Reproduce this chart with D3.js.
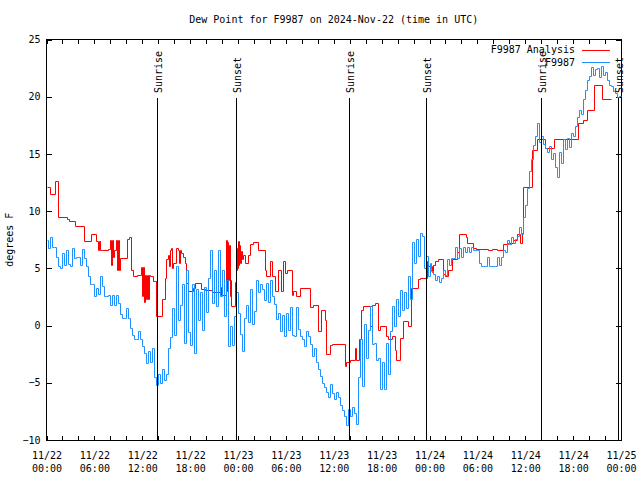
<!DOCTYPE html>
<html><head><meta charset="utf-8">
<script src="https://cdn.jsdelivr.net/npm/d3@7"></script>
<style>
body{margin:0;background:#fff}
svg{display:block}
text{font-family:"DejaVu Sans Mono",monospace;font-size:10px;fill:#000}
</style></head>
<body><svg id="c" width="640" height="480"></svg>
<script>
// ---------- DATA ----------
const titleText = "Dew Point for F9987 on 2024-Nov-22 (time in UTC)";
const yLabel = "degrees F";
const seriesNames = ["F9987 Analysis", "F9987"];
const startUTC = Date.UTC(2024, 10, 22, 0, 0);
const yTicks = [-10, -5, 0, 5, 10, 15, 20, 25];
const xTickHours = [0, 6, 12, 18, 24, 30, 36, 42, 48, 54, 60, 66, 72];
const xTickLabels = ["11/22\n00:00","11/22\n06:00","11/22\n12:00","11/22\n18:00",
  "11/23\n00:00","11/23\n06:00","11/23\n12:00","11/23\n18:00",
  "11/24\n00:00","11/24\n06:00","11/24\n12:00","11/24\n18:00","11/25\n00:00"];
const eventNames = ["Sunrise","Sunset","Sunrise","Sunset","Sunrise","Sunset"];
const eventHours = [13.89, 23.69, 37.91, 47.62, 61.97, 71.66];

// analysis (red), hours since 11/22 00:00 UTC and value (deg F), stepwise
const analysisHours = [0,0.5,1.09,1.5,2.55,2.76,3.6,4.64,5.52,6.23,6.43,6.55,6.65,6.94,7.69,7.99,8.09,8.19,8.32,8.47,8.74,8.84,8.94,9.06,9.22,10.12,10.37,10.62,10.83,11.29,11.88,12.0,12.13,12.23,12.36,12.48,12.61,12.73,12.83,12.92,13.33,13.71,14.51,14.8,15.01,15.22,15.37,15.49,15.64,15.74,15.84,16.27,16.43,16.56,16.68,16.9,17.1,17.31,17.52,17.72,18.35,18.56,19.41,19.82,20.7,21.7,21.91,22.54,22.62,22.7,22.79,22.87,22.96,23.04,23.17,23.58,23.75,23.83,23.92,24.0,24.09,24.17,24.27,24.37,24.46,24.58,24.83,25.25,25.46,25.84,26.5,27.35,27.56,27.97,28.31,28.6,29.01,29.44,29.64,29.94,30.14,30.77,30.9,31.32,31.74,32.99,33.4,34.03,34.46,34.87,35.08,35.5,35.79,37.38,37.59,38.01,38.63,38.85,39.17,39.47,39.68,40.52,40.81,41.14,41.56,41.77,42.61,42.81,43.24,43.66,43.86,44.28,44.7,45.32,45.62,46.58,46.79,47.63,47.83,48.26,48.46,48.67,49.08,49.71,49.92,50.34,50.76,51.39,51.72,52.52,52.72,53.47,53.77,55.28,55.78,56.41,57.24,57.87,58.49,59.0,59.34,59.55,59.75,60.8,61.43,62.47,63.64,66.65,67.2,67.7,68.65,69.66,70.75];
const analysisValues = [12.1,11.5,12.6,9.5,9.3,9.1,8.7,7.4,8.0,7.4,6.6,7.4,6.6,6.6,6.7,7.5,5.3,7.5,6.0,6.6,7.5,4.9,7.5,4.9,5.9,7.6,7.7,4.9,4.3,4.4,5.1,2.6,5.1,2.1,4.4,2.3,4.4,2.3,4.4,4.3,3.9,0.8,2.3,4.2,5.8,6.2,5.2,6.6,6.8,5.0,5.5,6.8,6.6,5.5,6.6,6.3,6.0,5.5,3.7,3.0,3.3,3.7,3.2,3.1,2.9,3.4,2.7,7.5,3.0,7.3,4.0,7.0,2.6,4.0,1.7,3.8,4.9,6.8,5.0,7.4,5.3,7.0,5.5,6.5,5.8,6.2,5.5,6.2,7.1,7.3,6.6,4.9,4.3,5.6,4.3,3.0,4.9,3.0,5.6,4.6,4.9,2.7,3.0,2.6,3.3,1.6,1.8,-0.5,1.4,0.5,-2.5,-1.7,-1.6,-3.5,-3.2,-3.0,-2.0,-3.0,-1.2,1.4,1.7,0.0,1.8,2.0,-0.4,0.0,-0.9,-1.2,-0.9,-2.1,-3.0,-1.1,0.4,0.0,3.3,4.1,4.2,5.6,5.2,4.7,5.3,5.6,5.8,4.5,4.3,4.9,5.8,6.4,8.0,7.7,7.2,6.8,6.7,6.6,6.7,6.6,7.1,7.2,7.5,8.0,7.2,8.1,12.1,15.3,16.3,15.5,16.3,17.7,18.0,18.8,21.0,19.8,19.8];

// station observations (blue), one value every 15 minutes from 11/22 00:00 UTC
const obsStepMinutes = 15;
const obsValues = [
 7.5,6.8,7.7,6.9, 6.9,6.0,5.2,5.0, 6.3,5.3,6.6,5.4, 5.2,6.8,5.9,6.0,
 6.0,5.3,6.7,5.9, 5.2,4.3,3.6,3.6, 2.6,3.3,2.8,4.3, 3.5,2.6,2.6,2.7,
 1.8,2.7,1.8,2.7, 2.0,1.0,0.7,0.7, 1.5,0.7,-0.2,-0.8, -1.2,-1.2,-0.5,-1.2,
 -1.8,-2.4,-3.3,-2.2, -3.2,-2.0,-4.5,-5.2, -4.2,-5.0,-3.8,-4.8, -4.2,-2.0,-1.0,1.5,
 -0.8,5.2,0.5,1.8, 3.6,-1.5,4.9,-0.6, -1.7,3.6,-2.4,3.2, 0.5,2.9,-0.4,3.4,
 1.2,4.2,6.6,2.0, 4.9,1.7,6.6,2.6, 4.9,0.8,4.0,-1.8, 0.0,-1.7,0.8,2.9,
 1.1,-0.7,-2.2,0.7, 1.8,0.3,3.2,0.1, 1.3,4.0,2.9,3.6, 3.2,2.2,3.7,2.1,
 4.0,2.6,1.9,0.6, 1.1,-0.5,0.9,-0.9, 1.1,-0.4,1.6,-0.8, -0.9,1.6,-0.3,-0.9,
 -1.2,-1.8,-0.5,-0.9, -1.6,-2.7,-2.0,-3.2, -3.8,-4.4,-5.0,-5.4, -5.8,-6.2,-5.1,-5.9,
 -6.4,-5.8,-6.2,-6.9, -7.4,-7.9,-8.7,-7.3, -7.9,-7.1,-7.6,-8.6, -4.5,-1.2,-5.3,0.1,
 -2.8,-0.4,1.7,-1.6, -1.5,-3.0,-2.8,-5.5, -3.2,-5.5,-1.5,-4.2, -0.5,1.7,0.0,2.3,
 0.8,3.1,1.4,2.9, 1.5,4.3,2.3,7.3, 5.5,7.6,6.1,8.1, 7.8,5.0,6.1,4.3,
 5.5,4.8,4.5,4.0, 4.3,3.8,4.2,4.9, 4.4,5.8,5.3,5.9, 5.9,6.9,5.9,6.8,
 6.0,6.9,6.4,6.9, 6.4,6.9,6.6,6.6, 6.6,5.5,5.2,5.2, 5.2,6.0,5.2,5.2,
 5.2,5.2,6.0,5.3, 6.0,6.6,6.4,7.5, 7.1,7.7,7.2,7.6, 7.8,8.6,8.0,9.5,
 10.5,12.0,13.5,14.6, 15.8,16.6,17.7,16.0, 16.6,15.9,15.5,15.2, 15.7,14.6,15.1,13.9,
 13.0,15.2,14.2,16.3, 15.4,16.4,15.6,16.8, 16.6,17.4,18.2,18.8, 18.5,19.8,20.6,21.5,
 21.8,22.6,21.9,22.4, 22.5,21.7,22.7,21.9, 22.2,21.5,21.0,20.9, 20.5,20.3,20.0,20.1,
 20.1
];

// ---------- CHART ----------
const H = 3600e3;
const svg = d3.select("#c");
const L = 46.5, R = 621, T = 39.5, B = 440;
const x = d3.scaleUtc().domain([new Date(startUTC), new Date(startUTC + 72*H)]).range([L, R]);
const y = d3.scaleLinear().domain([-10, 25]).range([B, T]);

const analysis = analysisHours.map((h,i)=>({t:new Date(startUTC + h*H), v:analysisValues[i]}));
const obs = obsValues.map((v,i)=>({t:new Date(startUTC + i*obsStepMinutes*60e3), v}));

// title
svg.append("text").attr("x", (L+R)/2).attr("y", 23).attr("text-anchor","middle").text(titleText);
// y label
svg.append("text").attr("transform",`translate(13,${(T+B)/2}) rotate(-90)`).attr("text-anchor","middle").text(yLabel);

// axes
const tickDates = d3.range(0, 73, 2).map(h=>new Date(startUTC + h*H));
const gB = svg.append("g").attr("transform",`translate(0,${B})`)
  .call(d3.axisBottom(x).tickValues(tickDates).tickSize(-4).tickPadding(12)
    .tickFormat(d=>{const h=(d-startUTC)/H; const k=xTickHours.indexOf(h); return k>=0?xTickLabels[k]:"";}));
gB.selectAll(".tick text").each(function(){
  const s = d3.select(this); const parts = s.text().split("\n"); s.text("");
  if(parts.length<2) return;
  s.append("tspan").attr("x",0).attr("dy","0.71em").text(parts[0]);
  s.append("tspan").attr("x",0).attr("dy","1.3em").text(parts[1]);
});
svg.append("g").attr("transform",`translate(0,${T})`)
  .call(d3.axisTop(x).tickValues(tickDates).tickSize(-4).tickFormat(""));
svg.append("g").attr("transform",`translate(${L},0)`)
  .call(d3.axisLeft(y).tickValues(yTicks).tickSize(-5).tickPadding(6).tickFormat(d3.format("d")));
svg.append("g").attr("transform",`translate(${R},0)`)
  .call(d3.axisRight(y).tickValues(yTicks).tickSize(-5).tickFormat(""));
svg.selectAll(".domain").remove();
svg.selectAll(".tick line").attr("stroke","#000").attr("shape-rendering","crispEdges");
svg.selectAll(".tick text").attr("font-family",'"DejaVu Sans Mono",monospace').attr("font-size",10).attr("fill","#000");

// frame
svg.append("rect").attr("x",L).attr("y",T).attr("width",R-L).attr("height",B-T)
  .attr("fill","none").attr("stroke","#000").attr("shape-rendering","crispEdges");

// series (pixel-snapped step lines)
const line = d3.line()
  .x(d=>Math.round(x(d.t))+0.5)
  .y(d=>Math.round(y(d.v))+0.5)
  .curve(d3.curveStepAfter);
svg.append("path").datum(analysis).attr("d",line).attr("fill","none").attr("stroke","#ff0000")
  .attr("stroke-width",1);
svg.append("path").datum(obs).attr("d",line).attr("fill","none").attr("stroke","#1e90ff")
  .attr("stroke-width",1);

// sunrise / sunset
eventHours.forEach((h,i)=>{
  const xx = Math.round(x(new Date(startUTC + h*H)))+0.5;
  svg.append("line").attr("x1",xx).attr("x2",xx).attr("y1",98).attr("y2",B)
    .attr("stroke","#000");
  svg.append("text").attr("transform",`translate(${xx+4},93) rotate(-90)`)
    .attr("text-anchor","start").text(eventNames[i]);
});

// legend
const legColors = ["#ff0000","#1e90ff"];
seriesNames.forEach((n,i)=>{
  const yy = 49.5 + i*12.5;
  svg.append("text").attr("x",575).attr("y",yy+3.5).attr("text-anchor","end").text(n);
  svg.append("line").attr("x1",582).attr("x2",610).attr("y1",Math.round(yy)+0.5).attr("y2",Math.round(yy)+0.5)
    .attr("stroke",legColors[i]);
});
</script></body></html>
